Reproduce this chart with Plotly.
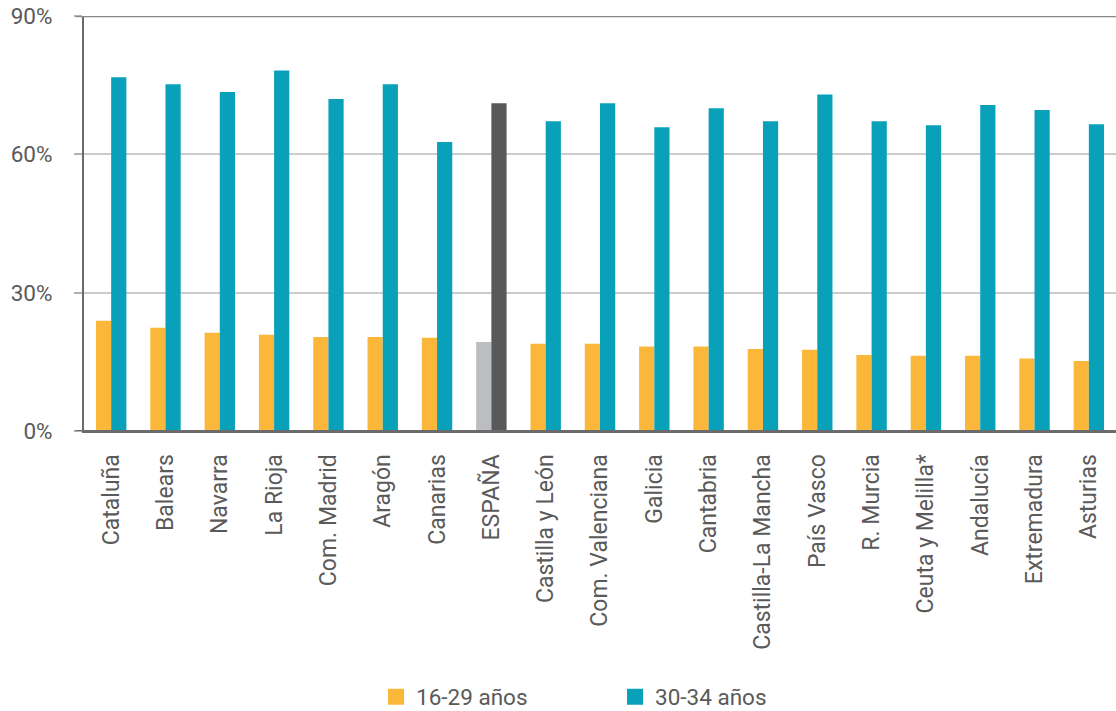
import plotly.graph_objects as go

regions = ["Cataluña", "Balears", "Navarra", "La Rioja", "Com. Madrid", "Aragón",
           "Canarias", "ESPAÑA", "Castilla y León", "Com. Valenciana", "Galicia",
           "Cantabria", "Castilla-La Mancha", "País Vasco", "R. Murcia",
           "Ceuta y Melilla*", "Andalucía", "Extremadura", "Asturias"]

young_16_29 = [23.9, 22.4, 21.3, 20.9, 20.4, 20.4, 20.2, 19.3, 18.9, 18.9, 18.3,
               18.3, 17.8, 17.6, 16.5, 16.3, 16.3, 15.7, 15.2]
adult_30_34 = [76.7, 75.2, 73.5, 78.2, 72.0, 75.2, 62.7, 71.1, 67.2, 71.1, 65.9,
               70.0, 67.2, 73.0, 67.2, 66.3, 70.7, 69.6, 66.5]

y_ticks = [0, 30, 60, 90]
y_tick_labels = ["0%", "30%", "60%", "90%"]

ORANGE = "#FBB73A"
TEAL = "#09A1BA"
LIGHT_GRAY = "#BCBDC0"
DARK_GRAY = "#58595B"

col_young = [LIGHT_GRAY if r == "ESPAÑA" else ORANGE for r in regions]
col_adult = [DARK_GRAY if r == "ESPAÑA" else TEAL for r in regions]

FONT = "Roboto"
TXT = "#5a5a5a"

fig = go.Figure()
fig.add_trace(go.Bar(x=regions, y=young_16_29, name="16-29 años", showlegend=False,
                     marker=dict(color=col_young, line=dict(width=0))))
fig.add_trace(go.Bar(x=regions, y=adult_30_34, name="30-34 años", showlegend=False,
                     marker=dict(color=col_adult, line=dict(width=0))))

# legend entries with pure series colours (square swatches)
fig.add_trace(go.Scatter(x=[None], y=[None], mode="markers", name="16-29 años",
                         marker=dict(color=ORANGE, symbol="square", size=16)))
fig.add_trace(go.Scatter(x=[None], y=[None], mode="markers", name="30-34 años",
                         marker=dict(color=TEAL, symbol="square", size=16)))

fig.update_layout(
    width=1116, height=711,
    margin=dict(l=84, r=0, t=16, b=280, autoexpand=False),
    paper_bgcolor="white", plot_bgcolor="white",
    barmode="group", bargap=0.44, bargroupgap=0,
    font=dict(family=FONT, color=TXT),
    showlegend=True,
    legend=dict(orientation="h", x=0.283, xanchor="left", y=-0.641, yanchor="middle",
                entrywidth=194, entrywidthmode="pixels",
                font=dict(family=FONT, size=22.5, color=TXT),
                traceorder="normal"),
    xaxis=dict(tickangle=-90, tickfont=dict(family=FONT, size=23, color=TXT),
               showline=True, linecolor="#6b6b6b", linewidth=2,
               ticks="", showgrid=False, ticklabelstandoff=12),
    yaxis=dict(range=[0, 90], tickmode="array", tickvals=y_ticks, ticktext=y_tick_labels,
               tickfont=dict(family=FONT, size=22.5, color=TXT),
               showgrid=True, gridcolor="#cccccc", gridwidth=1.5,
               ticks="outside", ticklen=8, tickcolor="#b0b0b0", tickwidth=1.5,
               showline=True, linecolor="#6b6b6b", linewidth=2,
               zeroline=False, ticklabelstandoff=17),
)
fig.add_shape(type="line", xref="paper", yref="y", x0=-0.008, x1=1, y0=90, y1=90,
              line=dict(color="#888888", width=2.5))
fig.add_shape(type="line", xref="paper", yref="y", x0=-0.008, x1=1, y0=0, y1=0,
              line=dict(color="#6b6b6b", width=2))

fig.write_html("out.html", config={"displayModeBar": False},
               post_script="document.body.style.margin='0';document.body.style.overflow='hidden';")
